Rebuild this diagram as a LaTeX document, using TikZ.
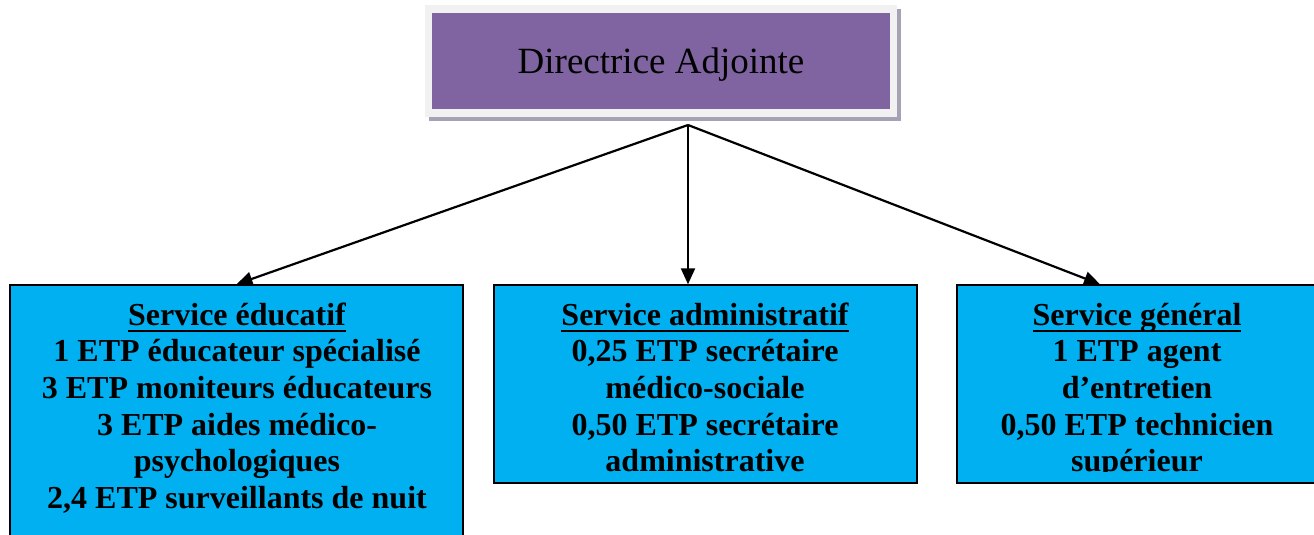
\documentclass[tikz,border=0pt]{standalone}
\usepackage{fontspec}
\setmainfont{Liberation Serif}
\usetikzlibrary{arrows.meta}
\definecolor{dirpurple}{HTML}{8064A2}
\definecolor{svcblue}{HTML}{00B0F0}
\definecolor{framegray}{HTML}{F1F1F1}
\definecolor{shadowgray}{HTML}{A4A2B4}
\newcommand\myul[1]{\setbox0\hbox{#1}\rlap{\rule[-7pt]{\wd0}{2.6pt}}\box0}
\tikzset{
  svcbox/.style={draw=black, line width=1.4pt, fill=svcblue, inner sep=0pt},
  svctext/.style={align=center, inner sep=0pt, anchor=north,
    font=\fontsize{32}{36.7}\selectfont\bfseries},
  conn/.style={line width=2.2pt, -{Triangle[length=16pt,width=14pt]}},
}
\begin{document}
\begin{tikzpicture}[x=1pt,y=-1pt]
\useasboundingbox (0,0) rectangle (1314,535);
\clip (0,0) rectangle (1314,535);
% top box with frame and shadow
\fill[shadowgray] (429,9) rectangle (901,121);
\fill[framegray] (425,5) rectangle (897,117);
\node[fill=dirpurple, minimum width=458pt, minimum height=96pt, inner sep=0pt] (top) at (661,61) {};
\node[inner sep=0pt, font=\fontsize{37}{44}\selectfont] (topt) at (661,65) {Directrice Adjointe};
\coordinate (hub) at (688,125);
% service boxes
\node[svcbox, minimum width=453pt, minimum height=260pt] (edu) at (236.5,415) {};
\node[svcbox, minimum width=423pt, minimum height=198pt] (adm) at (705.5,384) {};
\node[svcbox, minimum width=363pt, minimum height=198pt] (gen) at (1138.5,384) {};
% texts
\node[svctext] (edut) at (237,299.3) {\strut\myul{Service éducatif}\\1 ETP éducateur spécialisé\\3 ETP moniteurs éducateurs\\3 ETP aides médico-\\psychologiques\\2,4 ETP surveillants de nuit};
\node[svctext] (admt) at (705,299.3) {\strut\myul{Service administratif}\\0,25 ETP secrétaire\\médico-sociale\\0,50 ETP secrétaire\\administrative};
\begin{scope}
\clip (957,285) rectangle (1320,471.5);
\node[svctext] (gent) at (1137,299.3) {\strut\myul{Service général}\\1 ETP agent\\d’entretien\\0,50 ETP technicien\\supérieur};
\end{scope}
% connectors
\draw[conn] (hub) -- (edu.north);
\draw[conn] (hub) -- (hub |- adm.north);
\draw[conn] (hub) -- ([xshift=-38.5pt]gen.north);
\end{tikzpicture}
\end{document}
